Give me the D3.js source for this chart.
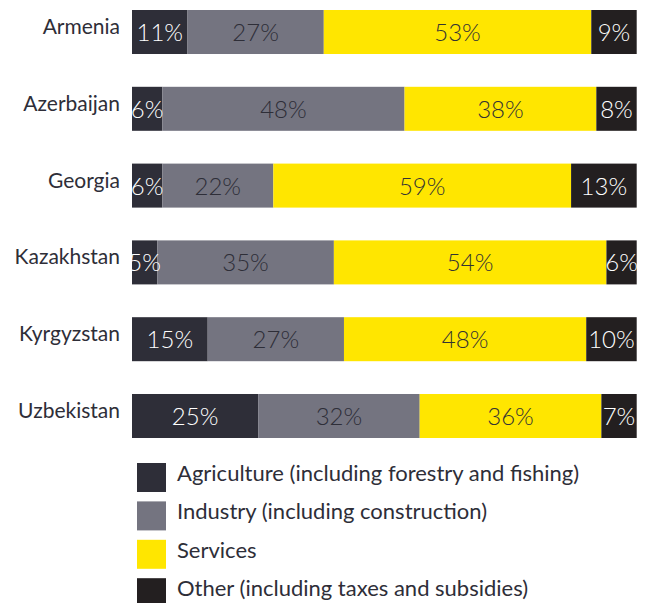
<!DOCTYPE html>
<html>
<head>
<meta charset="utf-8">
<script src="https://cdn.jsdelivr.net/npm/d3@7"></script>
<style>
  html, body { margin: 0; padding: 0; background: #fff; }
  svg text { font-family: Lato, "Open Sans", sans-serif; }
</style>
</head>
<body>
<svg id="chart" width="649" height="603"></svg>
<script>
const countries = ["Armenia", "Azerbaijan", "Georgia", "Kazakhstan", "Kyrgyzstan", "Uzbekistan"];
const agriculture = [11, 6, 6, 5, 15, 25];
const industry = [27, 48, 22, 35, 27, 32];
const services = [53, 38, 59, 54, 48, 36];
const other = [9, 8, 13, 6, 10, 7];
const seriesNames = [
  "Agriculture (including forestry and fishing)",
  "Industry (including construction)",
  "Services",
  "Other (including taxes and subsidies)"
];
const seriesKeys = ["agriculture", "industry", "services", "other"];
const colors = ["#2e2e38", "#747480", "#ffe600", "#231f20"];
const labelColors = ["#ffffff", "#2e2e38", "#333333", "#ffffff"];

const rows = countries.map((c, i) => ({
  country: c,
  agriculture: agriculture[i],
  industry: industry[i],
  services: services[i],
  other: other[i]
}));

const svg = d3.select("#chart");
const x = d3.scaleLinear().domain([0, 100]).range([132, 636.7]);
const y = d3.scaleBand().domain(countries).range([10, 438]).paddingInner(0.427).paddingOuter(0);

const stack = d3.stack().keys(seriesKeys);
const stacked = stack(rows);

const layers = svg.selectAll("g.layer").data(stacked).join("g")
  .attr("class", "layer")
  .attr("fill", (d, i) => colors[i]);

layers.selectAll("rect").data(d => d).join("rect")
  .attr("x", d => x(d[0]))
  .attr("y", d => y(d.data.country))
  .attr("width", d => x(d[1]) - x(d[0]))
  .attr("height", y.bandwidth());

stacked.forEach((layer, li) => {
  svg.append("g").selectAll("text").data(layer).join("text")
    .attr("x", d => (x(d[0]) + x(d[1])) / 2)
    .attr("y", d => y(d.data.country) + y.bandwidth() / 2 + 9)
    .attr("text-anchor", "middle")
    .attr("font-size", 24)
    .attr("font-weight", 300)
    .attr("fill", labelColors[li])
    .text(d => (d[1] - d[0]) + "%");
});

svg.append("g").selectAll("text").data(countries).join("text")
  .attr("x", 120)
  .attr("y", d => y(d) + y.bandwidth() / 2 + 2)
  .attr("text-anchor", "end")
  .attr("font-size", 21)
  .attr("font-weight", 400)
  .attr("fill", "#2e2e38")
  .text(d => d);

const legend = svg.append("g").attr("transform", "translate(137,463)");
const lg = legend.selectAll("g").data(seriesNames).join("g")
  .attr("transform", (d, i) => `translate(0,${i * 38.4})`);
lg.append("rect").attr("width", 29).attr("height", 29).attr("fill", (d, i) => colors[i]);
lg.append("text")
  .attr("x", 40)
  .attr("y", 18)
  .attr("font-size", 22)
  .attr("font-weight", 400)
  .attr("fill", "#2e2e38")
  .text(d => d);
</script>
</body>
</html>
